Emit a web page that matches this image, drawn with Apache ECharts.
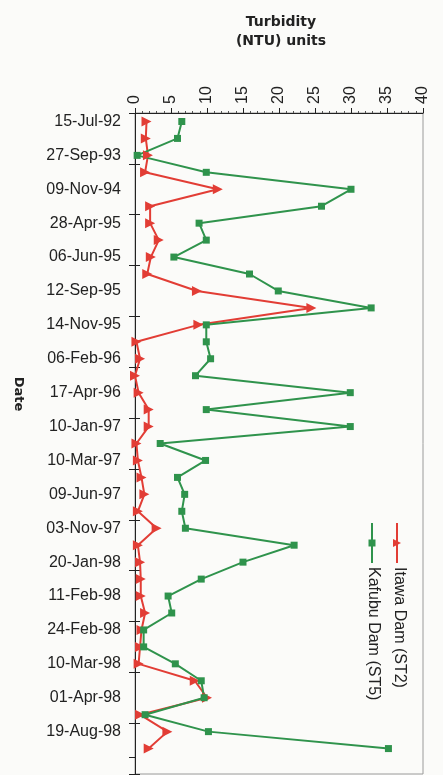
<!DOCTYPE html>
<html>
<head>
<meta charset="utf-8">
<script src="https://cdn.jsdelivr.net/npm/echarts@6/dist/echarts.min.js"></script>
<style>
html,body{margin:0;padding:0;background:#fbfbf9;}
#chart{width:443px;height:775px;}
</style>
</head>
<body>
<div id="chart"></div>
<script>
// Category labels (only every second date is printed on the axis)
var dates = [
  '15-Jul-92','', '27-Sep-93','', '09-Nov-94','', '28-Apr-95','', '06-Jun-95','',
  '12-Sep-95','', '14-Nov-95','', '06-Feb-96','', '17-Apr-96','', '10-Jan-97','',
  '10-Mar-97','', '09-Jun-97','', '03-Nov-97','', '20-Jan-98','', '11-Feb-98','',
  '24-Feb-98','', '10-Mar-98','', '01-Apr-98','', '19-Aug-98','', ''
];
// Turbidity (NTU) – Itawa Dam (ST2)
var itawa = [
  1.6, 1.5, 1.8, 1.4, 11.5, 2.1, 2.1, 3.3, 2.2, 1.7,
  8.6, 24.5, 8.8, 0.2, 0.7, 0.0, 0.5, 1.9, 1.9, 0.2,
  0.4, 0.9, 1.3, 0.4, 3.0, 0.4, 0.7, 0.8, 0.8, 1.4,
  0.9, 0.7, 0.5, 8.3, 10.0, 0.7, 4.5, 1.9, null
];
// Turbidity (NTU) – Kafubu Dam (ST5)
var kafubu = [
  6.5, 5.9, 0.3, 9.9, 30.0, 25.9, 8.9, 9.9, 5.4, 15.9,
  19.9, 32.8, 9.9, 9.9, 10.5, 8.4, 29.9, 9.9, 29.9, 3.5,
  9.8, 5.9, 6.9, 6.5, 7.0, 22.1, 15.0, 9.2, 4.6, 5.1,
  1.2, 1.2, 5.6, 9.2, 9.6, 1.4, 10.2, 35.2, null
];
var seriesNames = ['Itawa Dam (ST2)', 'Kafubu Dam (ST5)'];
var valueTicks = {min: 0, max: 40, interval: 5};

var RED = '#e23d35';
var GREEN = '#2f934c';
var TXT = '#222';

var chart = echarts.init(document.getElementById('chart'));
var option = {
  animation: false,
  backgroundColor: '#fbfbf9',
  title: {
    text: 'Turbidity\n(NTU) units',
    left: 276,
    top: 8,
    textAlign: 'center',
    textStyle: {fontFamily: 'DejaVu Sans', fontWeight: 'bold', fontSize: 14, lineHeight: 19, color: TXT}
  },
  grid: {
    left: 135, top: 113, width: 288, height: 661,
    show: true, borderColor: '#9a9a9a', borderWidth: 1, backgroundColor: 'transparent'
  },
  xAxis: {
    type: 'value', position: 'top',
    min: valueTicks.min, max: valueTicks.max, interval: valueTicks.interval,
    axisLine: {show: true, lineStyle: {color: TXT, width: 1}},
    axisTick: {show: true, length: 5, lineStyle: {color: TXT}},
    minorTick: {show: true, splitNumber: 5, length: 2, lineStyle: {color: '#555'}},
    splitLine: {show: false},
    axisLabel: {rotate: -90, margin: 9, fontSize: 16, fontFamily: 'Liberation Sans', color: TXT}
  },
  yAxis: [{
    type: 'category', inverse: true, data: dates, position: 'left',
    axisLine: {show: true, lineStyle: {color: TXT, width: 1}},
    axisTick: {show: true, interval: 2, length: 6, lineStyle: {color: TXT}},
    axisLabel: {interval: 0, margin: 14, fontSize: 16, fontFamily: 'Liberation Sans', color: TXT},
    splitLine: {show: false}
  }, {
    type: 'category', inverse: true, data: dates, position: 'left',
    axisLine: {show: false},
    axisTick: {show: true, inside: true, interval: 2, length: 5, lineStyle: {color: TXT}},
    axisLabel: {show: false},
    splitLine: {show: false}
  }],
  series: [{
    name: seriesNames[0], type: 'line', data: itawa, yAxisIndex: 0,
    symbol: 'triangle', symbolRotate: -90, symbolSize: 10,
    itemStyle: {color: RED}, lineStyle: {color: RED, width: 2}
  }, {
    name: seriesNames[1], type: 'line', data: kafubu, yAxisIndex: 0,
    symbol: 'rect', symbolSize: 7,
    itemStyle: {color: GREEN}, lineStyle: {color: GREEN, width: 2}
  }],
  graphic: [
    {type: 'text', x: 18, y: 394, rotation: -Math.PI / 2,
     style: {text: 'Date', font: 'bold 13px "DejaVu Sans"', fill: TXT,
             textAlign: 'center', textVerticalAlign: 'middle', align: 'center', verticalAlign: 'middle'}},
    // legend – Itawa
    {type: 'line', shape: {x1: 397, y1: 523, x2: 397, y2: 563}, style: {stroke: RED, lineWidth: 2}},
    {type: 'polygon', shape: {points: [[393, 539], [393, 547], [401, 543]]}, style: {fill: RED}},
    {type: 'text', x: 399.5, y: 567, rotation: -Math.PI / 2,
     style: {text: seriesNames[0], font: '16px "Liberation Sans"', fill: TXT,
             textAlign: 'left', textVerticalAlign: 'middle', align: 'left', verticalAlign: 'middle'}},
    // legend – Kafubu
    {type: 'line', shape: {x1: 372, y1: 523, x2: 372, y2: 563}, style: {stroke: GREEN, lineWidth: 2}},
    {type: 'rect', shape: {x: 368.5, y: 539.5, width: 7, height: 7}, style: {fill: GREEN}},
    {type: 'text', x: 373.5, y: 567, rotation: -Math.PI / 2,
     style: {text: seriesNames[1], font: '16px "Liberation Sans"', fill: TXT,
             textAlign: 'left', textVerticalAlign: 'middle', align: 'left', verticalAlign: 'middle'}}
  ]
};
chart.setOption(option);
</script>
</body>
</html>
